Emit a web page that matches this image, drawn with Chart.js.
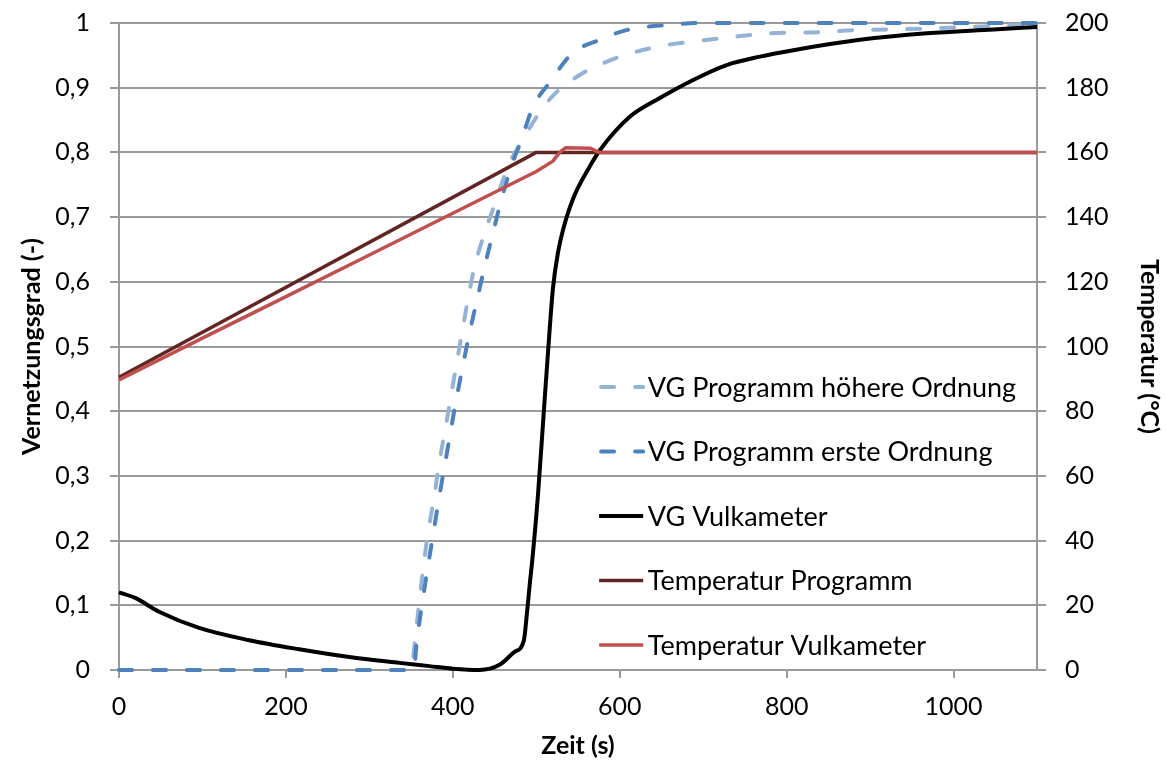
<!DOCTYPE html>
<html lang="de">
<head>
<meta charset="utf-8">
<title>Vernetzungsgrad und Temperatur</title>
<script src="https://cdn.jsdelivr.net/npm/chart.js@4.4.1/dist/chart.umd.min.js"></script>
<style>
  html, body { margin: 0; padding: 0; background: #fff; }
  #wrap { width: 1166px; height: 767px; }
</style>
</head>
<body>
<div id="wrap"><canvas id="vgChart" width="1166" height="767"></canvas></div>
<script>
// Zeitachse (s) und Achsenbeschriftungen
const zeitTicks = [0, 200, 400, 600, 800, 1000];
const vgTickValues = [0, 0.1, 0.2, 0.3, 0.4, 0.5, 0.6, 0.7, 0.8, 0.9, 1];
const vgTickLabels = ['0', '0,1', '0,2', '0,3', '0,4', '0,5', '0,6', '0,7', '0,8', '0,9', '1'];
const tempTicks = [0, 20, 40, 60, 80, 100, 120, 140, 160, 180, 200];

// VG Programm höhere Ordnung
const zeitHoehere = [0, 350, 355, 362, 370, 377, 383, 390, 397, 404, 411, 418, 426, 438, 452, 466, 484, 502, 521, 550, 584, 618, 656, 692, 732, 780, 840, 880, 928, 1000, 1100];
const vgHoehere = [0, 0, 0.05, 0.13, 0.21, 0.262, 0.314, 0.366, 0.417, 0.47, 0.521, 0.572, 0.623, 0.675, 0.726, 0.778, 0.82, 0.858, 0.889, 0.918, 0.94, 0.955, 0.966, 0.972, 0.978, 0.984, 0.986, 0.989, 0.99, 0.993, 0.998];

// VG Programm erste Ordnung
const zeitErste = [0, 353, 357, 363, 369, 376, 383, 390, 397, 404, 412, 420, 429, 438, 448, 458, 470, 482, 496, 516, 543, 576, 608, 648, 700, 1100];
const vgErste = [0, 0, 0.046, 0.1, 0.151, 0.206, 0.262, 0.314, 0.366, 0.417, 0.47, 0.521, 0.572, 0.623, 0.675, 0.726, 0.778, 0.819, 0.87, 0.908, 0.953, 0.974, 0.989, 0.996, 1, 1];

// VG Vulkameter (Messung)
const zeitVulk = [0, 20, 48, 96, 156, 216, 276, 336, 372, 400, 432, 456, 474, 485, 489, 492, 496, 502, 508, 514, 520, 526, 532, 544, 564, 576, 612, 648, 688, 728, 768, 808, 888, 968, 1048, 1100];
const vgVulk = [0.12, 0.111, 0.09, 0.065, 0.046, 0.032, 0.02, 0.011, 0.006, 0.002, 0, 0.008, 0.028, 0.045, 0.09, 0.13, 0.18, 0.27, 0.38, 0.49, 0.59, 0.645, 0.68, 0.728, 0.778, 0.803, 0.855, 0.884, 0.912, 0.935, 0.948, 0.958, 0.974, 0.984, 0.99, 0.994];

// Temperatur Programm (°C)
const zeitTempProg = [0, 500, 1100];
const tempProg = [90.5, 160, 160];

// Temperatur Vulkameter (°C)
const zeitTempVulk = [0, 15, 100, 200, 300, 400, 500, 520, 528, 535, 565, 575, 1100];
const tempVulk = [89.7, 91.6, 102.6, 115.4, 128.3, 141.2, 154.1, 157.3, 160, 161.4, 161.3, 160, 160];

function toPoints(xs, ys) {
    return xs.map((x, i) => ({ x: x, y: ys[i] }));
}

const tickFont = { family: 'Lato', size: 25 };
const titleFont = { family: 'Lato', size: 25, weight: 'bold' };
const gridColor = '#9a9a9a';

// feste Achsenbreite, ohne zusätzlichen Randabstand oben/unten
function fixWidth(width) {
    return axis => {
        axis.width = width;
        axis.paddingTop = 0;
        axis.paddingBottom = 0;
    };
}

// Legende innerhalb der Zeichenfläche
const innerLegend = {
    id: 'innerLegend',
    afterDatasetsDraw(chart) {
        const ctx = chart.ctx;
        const area = chart.chartArea;
        const w = area.right - area.left;
        const h = area.bottom - area.top;
        const lineStart = area.left + w * 0.523;
        const lineEnd = area.left + w * 0.571;
        const textX = area.left + w * 0.576;

        ctx.save();
        ctx.font = '27px Lato';
        ctx.textBaseline = 'middle';
        ctx.textAlign = 'left';
        chart.data.datasets.forEach((ds, i) => {
            const y = area.top + h * (0.5626 + 0.0997 * i);
            ctx.strokeStyle = ds.borderColor;
            ctx.lineWidth = ds.borderWidth;
            ctx.lineCap = ds.borderDash ? 'round' : 'butt';
            ctx.setLineDash(ds.borderDash || []);
            ctx.beginPath();
            ctx.moveTo(lineStart + (ds.borderDash ? 2 : 0), y);
            ctx.lineTo(lineEnd, y);
            ctx.stroke();
            ctx.setLineDash([]);
            ctx.fillStyle = '#000';
            ctx.fillText(ds.label, textX, y + 1);
        });
        ctx.restore();
    }
};

function initChart() {
    const ctx = document.getElementById('vgChart').getContext('2d');

    const chart = new Chart(ctx, {
        type: 'line',
        data: {
            datasets: [{
                label: 'VG Programm höhere Ordnung',
                data: toPoints(zeitHoehere, vgHoehere),
                yAxisID: 'y',
                borderColor: '#95b3d7',
                borderWidth: 4,
                borderDash: [13, 21],
                borderCapStyle: 'round',
                cubicInterpolationMode: 'monotone',
                order: 4
            }, {
                label: 'VG Programm erste Ordnung',
                data: toPoints(zeitErste, vgErste),
                yAxisID: 'y',
                borderColor: '#4f81bd',
                borderWidth: 4,
                borderDash: [13, 21],
                borderCapStyle: 'round',
                cubicInterpolationMode: 'monotone',
                order: 3
            }, {
                label: 'VG Vulkameter',
                data: toPoints(zeitVulk, vgVulk),
                yAxisID: 'y',
                borderColor: '#000000',
                borderWidth: 4,
                cubicInterpolationMode: 'monotone',
                order: 2
            }, {
                label: 'Temperatur Programm',
                data: toPoints(zeitTempProg, tempProg),
                yAxisID: 'y2',
                borderColor: '#632523',
                borderWidth: 3.5,
                tension: 0,
                order: 1
            }, {
                label: 'Temperatur Vulkameter',
                data: toPoints(zeitTempVulk, tempVulk),
                yAxisID: 'y2',
                borderColor: '#c0504d',
                borderWidth: 3.5,
                tension: 0,
                order: 0
            }]
        },
        options: {
            responsive: false,
            animation: false,
            clip: false,
            elements: {
                point: { radius: 0, hoverRadius: 0 },
                line: { borderJoinStyle: 'round', fill: false }
            },
            layout: { padding: { top: 23, left: 0, right: 0, bottom: 0 } },
            plugins: {
                legend: { display: false },
                tooltip: { enabled: false }
            },
            scales: {
                x: {
                    type: 'linear',
                    min: 0,
                    max: 1100,
                    afterBuildTicks: axis => { axis.ticks = zeitTicks.map(v => ({ value: v })); },
                    afterFit: axis => { axis.height = 97; },
                    ticks: {
                        font: tickFont,
                        color: '#000',
                        padding: 14,
                        maxRotation: 0,
                        callback: value => String(value)
                    },
                    grid: { drawOnChartArea: false, tickLength: 8, color: gridColor, lineWidth: 2 },
                    border: { color: gridColor, width: 2 },
                    title: { display: true, text: 'Zeit (s)', font: titleFont, color: '#000', padding: { top: 0, bottom: 6 } }
                },
                y: {
                    position: 'left',
                    min: 0,
                    max: 1,
                    afterBuildTicks: axis => { axis.ticks = vgTickValues.map(v => ({ value: v })); },
                    afterFit: fixWidth(119),
                    ticks: {
                        font: tickFont,
                        color: '#000',
                        padding: 20,
                        callback: (value, index) => vgTickLabels[index]
                    },
                    grid: { color: gridColor, lineWidth: 2, tickLength: 9 },
                    border: { color: gridColor, width: 2 },
                    title: { display: true, text: 'Vernetzungsgrad (-)', font: titleFont, color: '#000', padding: { top: 17, bottom: 0 } }
                },
                y2: {
                    position: 'right',
                    min: 0,
                    max: 200,
                    afterBuildTicks: axis => { axis.ticks = tempTicks.map(v => ({ value: v })); },
                    afterFit: fixWidth(129),
                    ticks: { font: tickFont, color: '#000', padding: 19 },
                    grid: { drawOnChartArea: false, color: gridColor, lineWidth: 2, tickLength: 9 },
                    border: { color: gridColor, width: 2 },
                    title: { display: true, text: 'Temperatur (°C)', font: titleFont, color: '#000', padding: { top: 2, bottom: 0 } }
                }
            }
        },
        plugins: [innerLegend]
    });

    return chart;
}

document.addEventListener('DOMContentLoaded', function() {
    initChart();
});
</script>
</body>
</html>
